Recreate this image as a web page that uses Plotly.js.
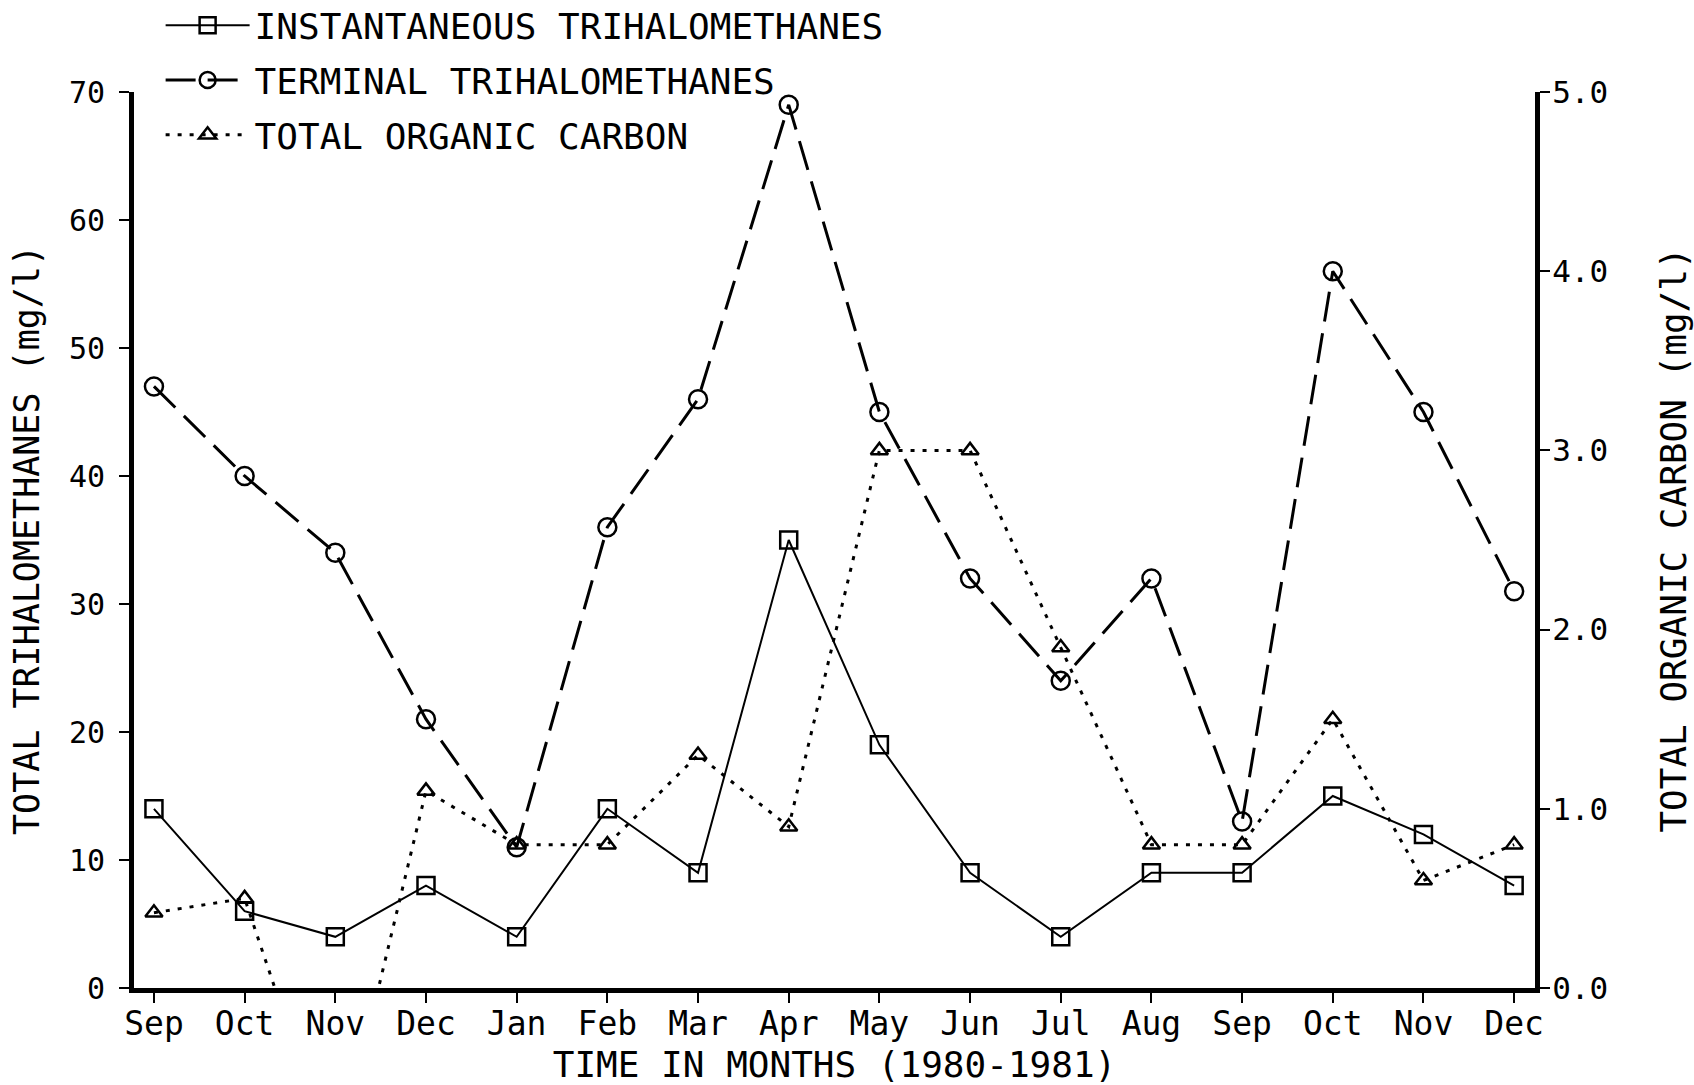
<!DOCTYPE html>
<html>
<head>
<meta charset="utf-8">
<script src="https://cdn.plot.ly/plotly-3.0.1.min.js"></script>
<style>
  html, body { margin: 0; padding: 0; background: #ffffff; }
  #chart { width: 1694px; height: 1085px; }
</style>
</head>
<body>
<div id="chart"></div>
<script>
// ---- data ----
const months = ["Sep","Oct","Nov","Dec","Jan","Feb","Mar","Apr","May","Jun","Jul","Aug","Sep","Oct","Nov","Dec"];
const instantaneousTHM = [14, 6, 4, 8, 4, 14, 9, 35, 19, 9, 4, 9, 9, 15, 12, 8];
const terminalTHM = [47, 40, 34, 21, 11, 36, 46, 69, 45, 32, 24, 32, 13, 56, 45, 31];
const totalOrganicCarbon = [0.42, 0.5, -1.0, 1.1, 0.8, 0.8, 1.3, 0.9, 3.0, 3.0, 1.9, 0.8, 0.8, 1.5, 0.6, 0.8];
const thmTicks = [0, 10, 20, 30, 40, 50, 60, 70];
const tocTicks = [0, 1, 2, 3, 4, 5];

const xIdx = months.map((m, i) => i);
const FONT = "DejaVu Sans Mono, Liberation Mono, monospace";

const traces = [
  {
    x: xIdx, y: instantaneousTHM, name: "INSTANTANEOUS TRIHALOMETHANES",
    type: "scatter", mode: "lines+markers", legendgroup: "a",
    line: { color: "#000", width: 2 },
    marker: { symbol: "square-open", size: 17, color: "#000", line: { width: 2.5, color: "#000" } }
  },
  {
    x: xIdx, y: terminalTHM, name: "TERMINAL TRIHALOMETHANES",
    type: "scatter", mode: "lines+markers", legendgroup: "b",
    line: { color: "#000", width: 3, dash: "30px,12px" },
    marker: { symbol: "circle-open", size: 18, color: "#000", line: { width: 2.5, color: "#000" } }
  },
  {
    x: xIdx, y: totalOrganicCarbon, name: "TOTAL ORGANIC CARBON", yaxis: "y2",
    type: "scatter", mode: "lines+markers", legendgroup: "c",
    line: { color: "#000", width: 3, dash: "4px,8px" },
    marker: { symbol: "triangle-up-open", size: 15, color: "#000", line: { width: 2.5, color: "#000" } }
  }
];

const axisCommon = {
  showline: true, linecolor: "#000", linewidth: 5,
  ticks: "outside", ticklen: 10, tickwidth: 2, tickcolor: "#000",
  showgrid: false, zeroline: false, automargin: false,
  tickfont: { family: FONT, size: 30, color: "#000" }
};

const layout = {
  width: 1694, height: 1085,
  margin: { l: 134, r: 159, t: 92, b: 97, autoexpand: false },
  paper_bgcolor: "#fff", plot_bgcolor: "#fff",
  font: { family: FONT, color: "#000" },
  showlegend: true,
  legend: {
    x: 0.019, y: 1.108, xanchor: "left", yanchor: "top",
    bgcolor: "rgba(0,0,0,0)", borderwidth: 0,
    font: { family: FONT, size: 36, color: "#000" },
    itemwidth: 84, tracegroupgap: 5, traceorder: "grouped"
  },
  xaxis: Object.assign({}, axisCommon, {
    range: [-0.22, 15.23],
    tickmode: "array", tickvals: xIdx, ticktext: months,
    tickfont: { family: FONT, size: 33, color: "#000" },
    ticklabelstandoff: -8,
    title: { text: "TIME IN MONTHS (1980-1981)", font: { family: FONT, size: 36, color: "#000" }, standoff: 22 }
  }),
  yaxis: Object.assign({}, axisCommon, {
    range: [0, 70], tickmode: "array", tickvals: thmTicks,
    ticklabelstandoff: 8,
    title: { text: "TOTAL TRIHALOMETHANES (mg/l)", font: { family: FONT, size: 35, color: "#000" }, standoff: 20 }
  }),
  yaxis2: Object.assign({}, axisCommon, {
    overlaying: "y", side: "right",
    range: [0, 5], tickmode: "array", tickvals: tocTicks, tickformat: ".1f",
    tickfont: { family: FONT, size: 31, color: "#000" },
    ticklabelstandoff: -4,
    title: { text: "TOTAL ORGANIC CARBON (mg/l)", font: { family: FONT, size: 36, color: "#000" }, standoff: 56 }
  })
};

Plotly.newPlot("chart", traces, layout, { displayModeBar: false, staticPlot: true });
</script>
</body>
</html>
